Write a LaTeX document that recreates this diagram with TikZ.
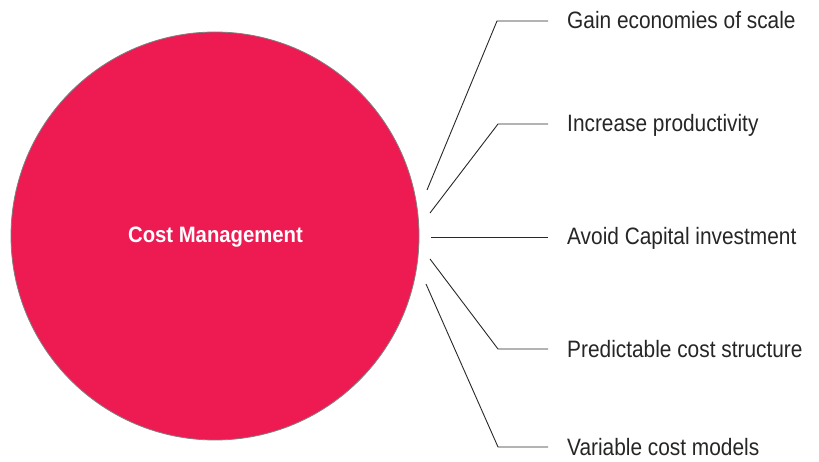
\documentclass[tikz,border=0pt]{standalone}
\usepackage{fontspec}
\setmainfont{Liberation Sans}[FakeStretch=0.88]
\newfontfamily\hubfont{Liberation Sans}[FakeStretch=0.91,BoldFont={* Bold}]
\definecolor{hubred}{RGB}{238,26,82}
\definecolor{linegray}{RGB}{40,40,40}
\begin{document}
\begin{tikzpicture}[x=1pt,y=-1pt,
  hub/.style={circle,draw=gray,line width=0.8pt,fill=hubred,minimum size=408pt,inner sep=0pt},
  hubtext/.style={anchor=base,inner sep=0pt,text=white,font=\hubfont\bfseries\fontsize{22.3}{26}\selectfont},
  item/.style={anchor=base west,inner sep=0pt,text=black!85,font=\fontsize{23.7}{28}\selectfont},
  link/.style={draw=linegray,line width=0.9pt}]
\useasboundingbox (0,0) rectangle (819,462);
\node[hub] (hub) at (215,236) {};
\node[hubtext] (hubl) at (215.5,243) {Cost Management};
% end points of the leader lines next to the circle
\coordinate (s1) at (427,190);
\coordinate (s2) at (430,213);
\coordinate (s3) at (431,237);
\coordinate (s4) at (430,259);
\coordinate (s5) at (426,284);
% elbows
\coordinate (e1) at (497,21);
\coordinate (e2) at (498,124);
\coordinate (e4) at (498,349);
\coordinate (e5) at (498,447);
% ends of the leaders
\coordinate (t1) at (548,21);
\coordinate (t2) at (548,124);
\coordinate (t3) at (548,237);
\coordinate (t4) at (548,349);
\coordinate (t5) at (548,447);
\node[item] (l1) at (567,29) {Gain economies of scale};
\node[item] (l2) at (567,132) {Increase productivity};
\node[item] (l3) at (567,245) {Avoid Capital investment};
\node[item] (l4) at (567,357) {Predictable cost structure};
\node[item] (l5) at (567,455) {Variable cost models};
\draw[link] (s1) -- (e1) -- (t1);
\draw[link] (s2) -- (e2) -- (t2);
\draw[link] (s3) -- (t3);
\draw[link] (s4) -- (e4) -- (t4);
\draw[link] (s5) -- (e5) -- (t5);
\end{tikzpicture}
\end{document}
